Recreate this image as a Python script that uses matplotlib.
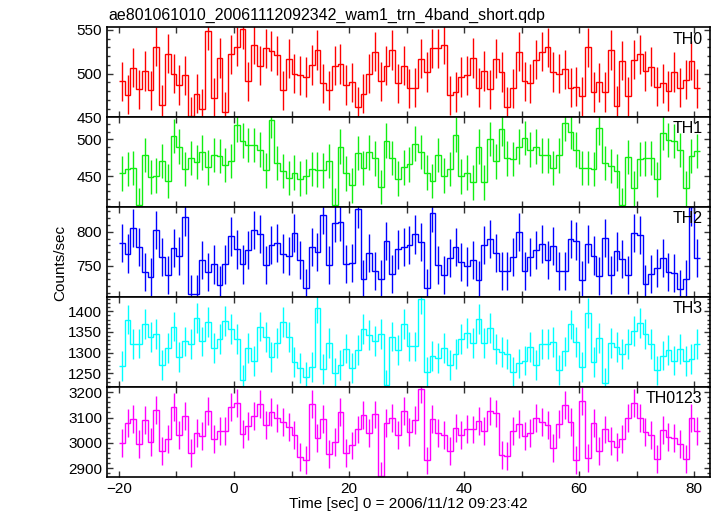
import numpy as np
import matplotlib.pyplot as plt
from matplotlib.ticker import MultipleLocator

plt.rcParams['font.family'] = ['Liberation Sans', 'DejaVu Sans']
plt.rcParams['font.size'] = 11

title = "ae801061010_20061112092342_wam1_trn_4band_short.qdp"
xlabel = "Time [sec] 0 = 2006/11/12 09:23:42"
ylabel = "Counts/sec"

# 1 s bins starting at -20 s
t_start = -20
n_bins = 101

th0 = [491, 476, 507, 482, 503, 481, 531, 464, 523, 500,
       487, 498, 451, 477, 460, 549, 472, 518, 456, 522,
       531, 551, 491, 533, 509, 529, 526, 521, 481, 517,
       500, 498, 496, 510, 527, 489, 481, 509, 511, 487,
       490, 462, 477, 500, 525, 491, 509, 527, 489, 509,
       483, 484, 517, 502, 529, 529, 533, 475, 479, 496,
       498, 518, 484, 503, 482, 517, 502, 462, 483, 525,
       491, 489, 516, 525, 530, 502, 500, 505, 484, 485,
       474, 530, 479, 490, 479, 527, 463, 515, 474, 516,
       522, 503, 508, 485, 489, 480, 502, 484, 493, 515,
       483]
th1 = [454, 460, 461, 412, 479, 449, 451, 471, 444, 504,
       490, 460, 475, 469, 482, 462, 479, 477, 465, 471,
       519, 498, 492, 492, 486, 458, 525, 468, 457, 448,
       455, 447, 450, 460, 459, 458, 471, 412, 490, 454,
       438, 481, 461, 482, 474, 436, 498, 475, 447, 462,
       466, 494, 483, 455, 444, 479, 451, 460, 506, 450,
       455, 442, 490, 442, 500, 470, 514, 474, 473, 490,
       501, 486, 490, 478, 478, 461, 478, 521, 510, 486,
       461, 461, 460, 515, 468, 464, 457, 412, 476, 434,
       473, 474, 475, 446, 508, 499, 497, 485, 434, 477,
       484]
th2 = [783, 768, 805, 778, 741, 733, 803, 763, 736, 776,
       764, 821, 708, 708, 758, 741, 752, 722, 752, 793,
       774, 752, 773, 802, 797, 751, 781, 784, 768, 764,
       798, 758, 718, 778, 770, 824, 751, 813, 814, 753,
       754, 833, 730, 769, 742, 730, 787, 738, 774, 777,
       780, 796, 785, 718, 828, 751, 737, 762, 778, 756,
       749, 758, 729, 781, 789, 769, 742, 742, 763, 799,
       742, 763, 773, 782, 759, 779, 742, 742, 789, 787,
       729, 782, 765, 735, 791, 737, 771, 760, 737, 798,
       795, 723, 738, 747, 762, 741, 739, 716, 730, 836,
       761]
th3 = [1268, 1380, 1320, 1322, 1370, 1338, 1346, 1270, 1311, 1363,
       1289, 1327, 1320, 1383, 1327, 1374, 1311, 1332, 1376, 1358,
       1333, 1235, 1311, 1280, 1363, 1337, 1290, 1324, 1374, 1337,
       1278, 1264, 1242, 1265, 1407, 1260, 1324, 1251, 1271, 1310,
       1264, 1307, 1358, 1342, 1328, 1346, 1221, 1339, 1307, 1370,
       1315, 1315, 1429, 1254, 1292, 1288, 1311, 1271, 1297, 1333,
       1347, 1323, 1382, 1323, 1359, 1308, 1302, 1297, 1253, 1274,
       1281, 1314, 1270, 1320, 1320, 1326, 1259, 1303, 1368, 1325,
       1265, 1396, 1278, 1336, 1227, 1324, 1313, 1296, 1321, 1353,
       1372, 1346, 1321, 1257, 1293, 1307, 1281, 1309, 1279, 1285,
       1321]
th0123 = [2998, 3080, 3093, 2995, 3090, 3003, 3128, 2970, 3015, 3141,
          3031, 3107, 2959, 3038, 3026, 3126, 3015, 3048, 3048, 3141,
          3156, 3037, 3068, 3105, 3153, 3072, 3122, 3098, 3082, 3064,
          3031, 2946, 2933, 3152, 3020, 3094, 2957, 3005, 3122, 2961,
          2990, 3053, 3111, 3040, 3112, 2870, 3078, 3098, 3033, 3127,
          3042, 3090, 3211, 2931, 3093, 3041, 3033, 2970, 3059, 3033,
          3056, 3053, 3085, 3048, 3127, 3116, 2952, 2948, 3048, 3074,
          3028, 3041, 3100, 3084, 3069, 2979, 3075, 3148, 3082, 2932,
          3164, 2940, 3078, 2968, 3053, 3007, 2985, 3014, 3100, 3159,
          3100, 3044, 3033, 2937, 3051, 3025, 3020, 2995, 2937, 3100,
          3048]

names = ["TH0", "TH1", "TH2", "TH3", "TH0123"]
series = [th0, th1, th2, th3, th0123]
errors = [22.5, 23, 28, 36, 55]
colors = ["#ff0000", "#11ee11", "#0000ff", "#00ffff", "#ff00ff"]
ylims = [(450, 553), (409, 529), (704, 836), (1217, 1434), (2866, 3220)]
ymajor = [50, 50, 50, 50, 100]
yminor = [10, 10, 10, 10, 20]

edges = t_start + np.arange(n_bins + 1)
centers = edges[:-1] + 0.5

fig, axes = plt.subplots(5, 1, sharex=True, figsize=(7.17, 5.16), dpi=100)
fig.subplots_adjust(left=0.149, right=0.990, top=0.947, bottom=0.0756, hspace=0)

for i, ax in enumerate(axes):
    vals = np.array(series[i])
    ax.stairs(vals, edges, color=colors[i], lw=1.0, baseline=None)
    ax.errorbar(centers, vals, yerr=errors[i], fmt='none',
                ecolor=colors[i], elinewidth=1.0)
    ax.set_ylim(*ylims[i])
    ax.set_xlim(-22.1, 82.7)
    ax.yaxis.set_major_locator(MultipleLocator(ymajor[i]))
    ax.yaxis.set_minor_locator(MultipleLocator(yminor[i]))
    ax.xaxis.set_major_locator(MultipleLocator(20))
    ax.xaxis.set_minor_locator(MultipleLocator(10))
    ax.tick_params(which='both', direction='in', top=True, right=True,
                   width=1.0, color='#333333')
    ax.tick_params(which='major', length=4)
    ax.tick_params(which='minor', length=2.5)
    ax.tick_params(axis='x', which='minor', length=4)
    for s in ax.spines.values():
        s.set_linewidth(1.2)
    ax.text(0.988, 0.87, names[i], transform=ax.transAxes,
            ha='right', va='center', fontsize=11.5)

axes[-1].set_xlabel(xlabel, labelpad=1)
fig.text(0.151, 0.971, title, ha='left', va='center', fontsize=11.5)
fig.text(0.084, 0.49, ylabel, rotation=90, ha='center', va='center')

fig.savefig("out.png", dpi=100)
